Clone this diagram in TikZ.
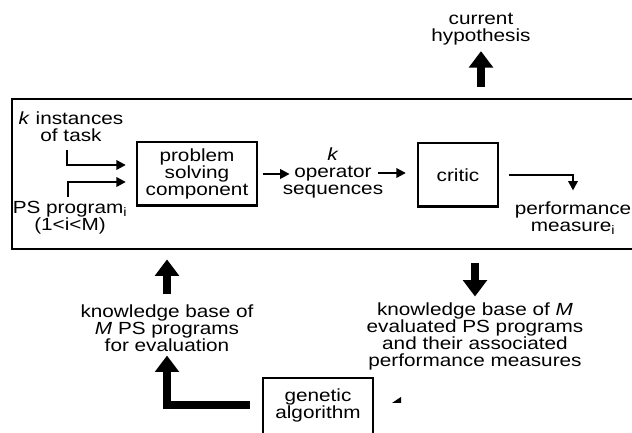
\documentclass[tikz,border=0pt]{standalone}
\usepackage{fontspec}
\setmainfont{Liberation Sans}[FakeStretch=1.18]
\usetikzlibrary{arrows.meta}
\newcommand{\diagfont}{\fontsize{15}{14.5}\selectfont}

\begin{document}
\begin{tikzpicture}[x=0.03cm, y=-0.03cm,
    every node/.style={font=\diagfont, align=center},
    box/.style={draw, line width=2pt, minimum height=1.9cm},
    thinarrow/.style={line width=1.8pt, -{Triangle[length=8pt, width=8pt]}},
    bigarrow/.style={line width=7pt, -{Triangle[length=14pt, width=20pt]}}]
    \useasboundingbox (0,0) rectangle (632,433);

    % the evaluation loop
    \node[draw, line width=2.4pt, minimum width=18.84cm, minimum height=4.5cm] (loop) at (326,174) {};
    \node (hyp) at (481,29) {current\\hypothesis};
    \node (tasks) at (71,127) {\textit{k} instances\\of task};
    \node (prog) at (70,218) {PS program\textsubscript{i}\\(1<i<M)};
    \node[box, minimum width=3.6cm] (ps) at (197,174) {problem\\solving\\component};
    \node[inner sep=0pt] (seq) at (333,173) {\textit{k}\\operator\\sequences};
    \node[box, minimum width=2.4cm] (critic) at (458,175) {critic};
    \node (perf) at (573,218) {performance\\measure\textsubscript{i}};

    % knowledge bases and GA
    \node (kb1) at (167,328) {knowledge base of\\\textit{M} PS programs\\for evaluation};
    \node (kb2) at (475,336) {knowledge base of \textit{M}\\evaluated PS programs\\and their associated\\performance measures};
    \node (ga) at (318,405) {genetic\\algorithm};
    \draw[line width=2pt] (263,445) |- (373,378) -- (373,445);

    \coordinate (taskin) at (67,150);
    \coordinate (progin) at (68,197);
    \draw[thinarrow, shorten >=0.3cm] (taskin) |- (ps.west |- 0,165);
    \draw[thinarrow, shorten >=0.3cm] (progin) |- (ps.west |- 0,182);
    \draw[thinarrow, shorten <=0.15cm, shorten >=-0.21cm] (ps.east) -- (ps.east -| seq.west);
    \draw[thinarrow, shorten <=-0.15cm, shorten >=0.33cm] (seq.east) -- (seq.east -| critic.west);
    \draw[thinarrow, shorten <=0.3cm, shorten >=0.21cm] (critic.east) -| (perf.north);

    \draw[bigarrow, shorten <=0.33cm, shorten >=0.06cm] (loop.north -| hyp.south) -- (hyp.south);
    \draw[bigarrow, shorten <=0.18cm, shorten >=0.27cm] (kb1.north) -- (kb1.north |- loop.south);
    \draw[bigarrow, shorten <=0.39cm, shorten >=0.05cm] (loop.south -| kb2.north) -- (kb2.north);
    \draw[bigarrow, shorten <=0.65cm] (ga.west) -| (kb1.south);

    \fill (392,403) -- (401,397) -- (401,403) -- cycle;
\end{tikzpicture}
\end{document}
